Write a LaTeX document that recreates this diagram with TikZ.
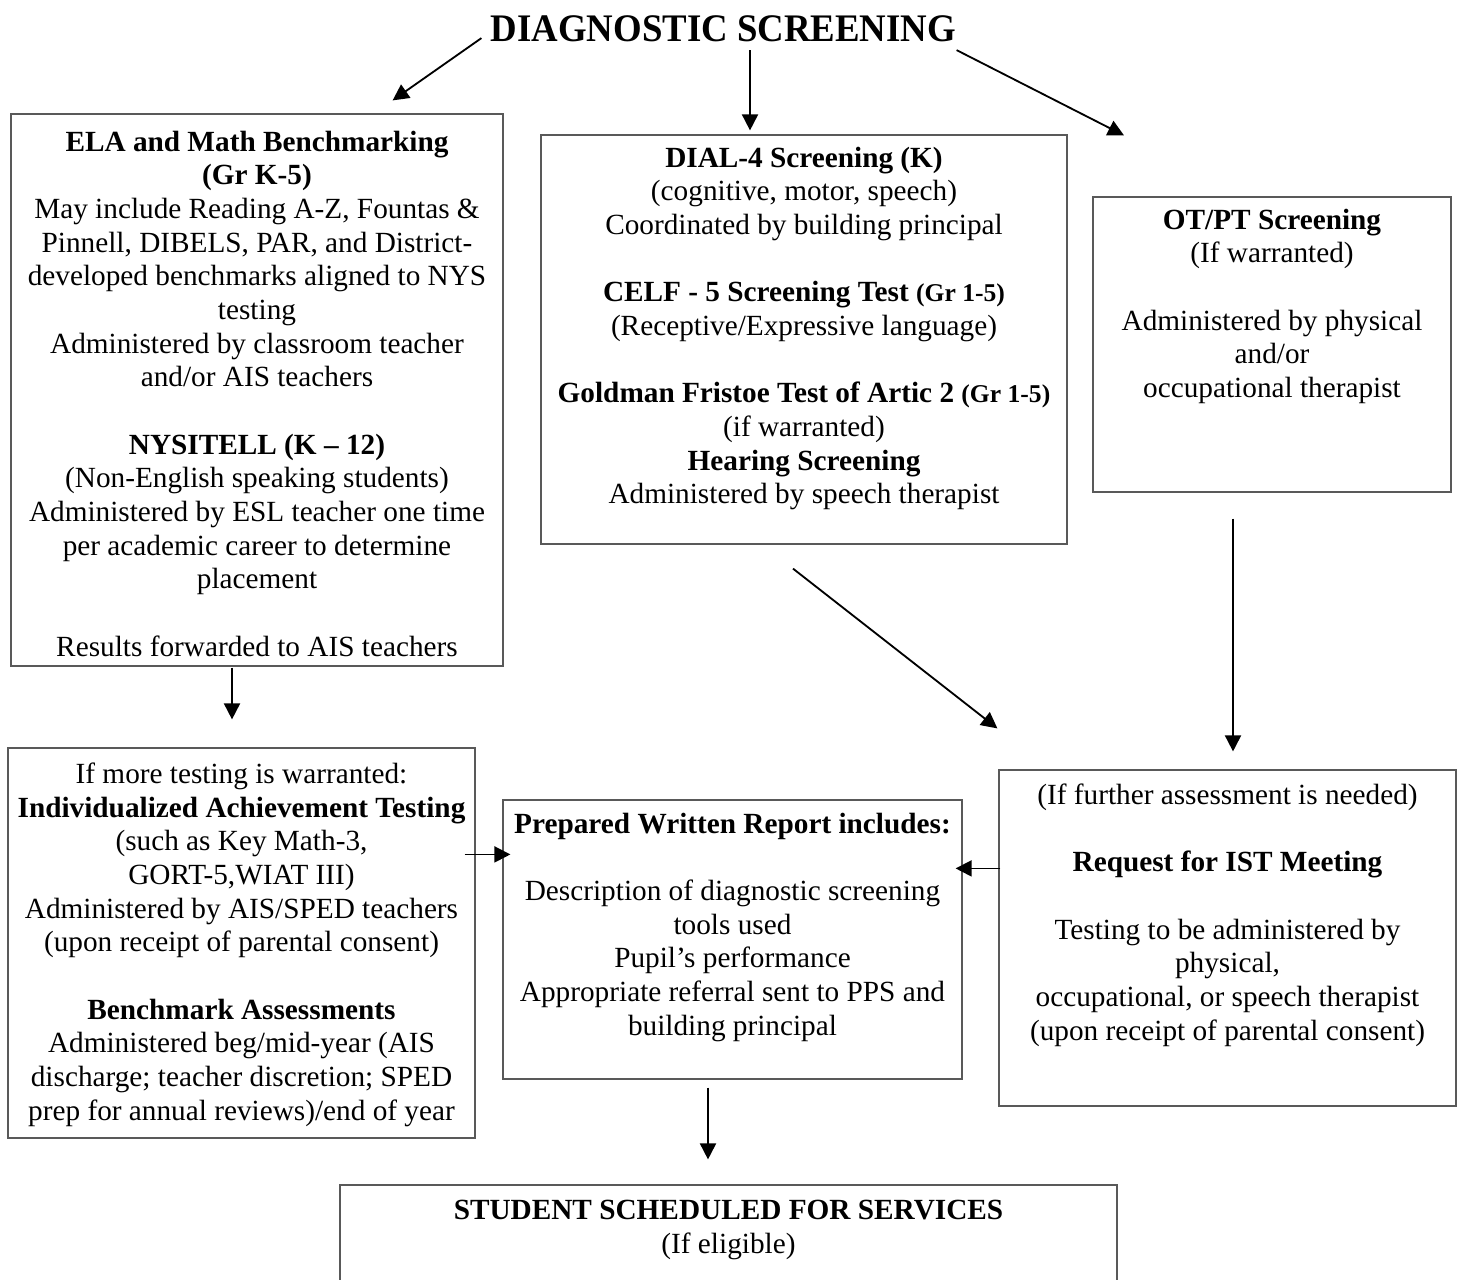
\documentclass[tikz,border=0pt]{standalone}
\usepackage{fontspec}
\setmainfont{Liberation Serif}
\usepackage{graphicx}
\usetikzlibrary{positioning,fit}
\usetikzlibrary{arrows.meta}
\tikzstyle{box} = [draw=black!65, line width=0.5pt, inner sep=0pt]
\tikzstyle{txt} = [align=center, inner sep=0pt, font=\fontsize{12}{13.8}\selectfont]
\tikzstyle{link} = [-{Triangle[length=6.6pt,width=6.6pt]}, line width=0.75pt]
\newcommand{\grade}{{\fontsize{10.5}{13.8}\selectfont (Gr 1-5)}}

\begin{document}
\begin{tikzpicture}[x=0.41pt, y=-0.41pt]
        \useasboundingbox (0,0) rectangle (1457,1279);

        \node[inner sep=0pt, font=\fontsize{16}{19}\selectfont\bfseries] (title) at (723.5,28.5)
            {\scalebox{0.943}[1]{DIAGNOSTIC SCREENING}};

        \node[box, fit={(11,114) (503,666)}] (ela) {};
        \node[box, fit={(541,135) (1067,544)}] (dial) {};
        \node[box, fit={(1093,197) (1451,492)}] (otpt) {};
        \node[box, fit={(8,748) (475,1138)}] (ach) {};
        \node[box, fit={(503,800) (962,1079)}] (report) {};
        \node[box, fit={(999,770) (1456,1106)}] (ist) {};
        \node[box, fit={(340,1185) (1117,1300)}] (sched) {};

        \node[txt, below=7pt of ela.north] (elatext) {\textbf{ELA and Math Benchmarking}\\
            \textbf{(Gr K-5)}\\
            May include Reading A-Z, Fountas \&\\
            Pinnell, DIBELS, PAR, and District-\\
            developed benchmarks aligned to NYS\\
            testing\\
            Administered by classroom teacher\\
            and/or AIS teachers\\[13.8pt]
            \textbf{NYSITELL (K -- 12)}\\
            (Non-English speaking students)\\
            Administered by ESL teacher one time\\
            per academic career to determine\\
            placement\\[13.8pt]
            Results forwarded to AIS teachers};
        \node[txt, below=4.9pt of dial.north] (dialtext) {\textbf{DIAL-4 Screening (K)}\\
            (cognitive, motor, speech)\\
            Coordinated by building principal\\[13.8pt]
            \textbf{CELF - 5 Screening Test \grade}\\
            (Receptive/Expressive language)\\[13.8pt]
            \textbf{Goldman Fristoe Test of Artic 2 \grade}\\
            (if warranted)\\
            \textbf{Hearing Screening}\\
            Administered by speech therapist};
        \node[txt, below=4.9pt of otpt.north] (otpttext) {\textbf{OT/PT Screening}\\
            (If warranted)\\[13.8pt]
            Administered by physical\\
            and/or\\
            occupational therapist};
        \node[txt, below=6.2pt of ach.north] (achtext) {If more testing is warranted:\\
            \textbf{Individualized Achievement Testing}\\
            (such as Key Math-3,\\
            GORT-5,WIAT III)\\
            Administered by AIS/SPED teachers\\
            (upon receipt of parental consent)\\[13.8pt]
            \textbf{Benchmark Assessments}\\
            Administered beg/mid-year (AIS\\
            discharge; teacher discretion; SPED\\
            prep for annual reviews)/end of year};
        \node[txt, below=5.3pt of report.north] (reporttext) {\textbf{Prepared Written Report includes:}\\[13.8pt]
            Description of diagnostic screening\\
            tools used\\
            Pupil’s performance\\
            Appropriate referral sent to PPS and\\
            building principal};
        \node[txt, below=5.7pt of ist.north] (isttext) {(If further assessment is needed)\\[13.8pt]
            \textbf{Request for IST Meeting}\\[13.8pt]
            Testing to be administered by\\
            physical,\\
            occupational, or speech therapist\\
            (upon receipt of parental consent)};
        \node[txt, below=6.2pt of sched.north] (schedtext) {\textbf{STUDENT SCHEDULED FOR SERVICES}\\
            (If eligible)};

        \draw[link] ([shift={(-9,-4)}]title.south west) -- ([shift={(-111,-13)}]ela.north east);
        \draw[link] ([shift={(26.5,8)}]title.south) -- ([shift={(-54,-4)}]dial.north);
        \draw[link] ([shift={(0,8)}]title.south east) -- ([shift={(-148,-61)}]otpt.north);
        \draw[link] ([shift={(-25,1)}]ela.south) -- ([shift={(-9.5,-28)}]ach.north);
        \draw[link] ([shift={(-11,24)}]dial.south) -- ([shift={(-1,-41)}]ist.north west);
        \draw[link] ([shift={(-39,26)}]otpt.south) -- ([shift={(5.5,-18)}]ist.north);
        \draw[link] ([shift={(-11,107)}]ach.north east) -- ([shift={(8,55)}]report.north west);
        \draw[link] ([shift={(2,99)}]ist.north west) -- ([shift={(-7,69)}]report.north east);
        \draw[link] ([shift={(-24.5,8)}]report.south) -- ([shift={(-20.5,-25)}]sched.north);
    \end{tikzpicture}
\end{document}
